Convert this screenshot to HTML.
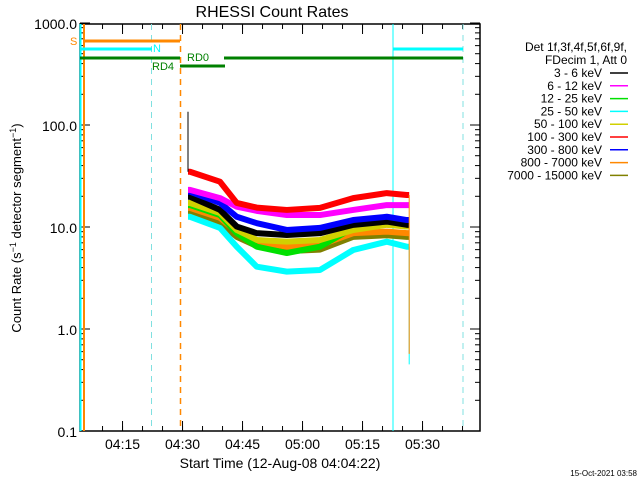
<!DOCTYPE html>
<html><head><meta charset="utf-8"><style>
body{margin:0;background:#fff;}
svg{display:block;font-family:"Liberation Sans",sans-serif;}
</style></head><body>
<svg id="chart" width="640" height="480" viewBox="0 0 640 480">
<rect width="640" height="480" fill="#fff"/>
<text x="272" y="17" font-size="16" text-anchor="middle">RHESSI Count Rates</text>
<text transform="translate(21,228) rotate(-90)" font-size="13" text-anchor="middle">Count Rate (s<tspan font-size="9" dy="-5">−1</tspan><tspan dy="5"> detector segment</tspan><tspan font-size="9" dy="-5">−1</tspan><tspan dy="5">)</tspan></text>
<text x="280" y="468" font-size="14" text-anchor="middle">Start Time (12-Aug-08 04:04:22)</text>
<text x="637" y="476" font-size="8" text-anchor="end">15-Oct-2021 03:58</text>
<g id="axes"></g>
<g id="marks"></g>
<g id="legend"></g>
</svg>
<script>
// data
const times = [27.5, 35, 39.2, 44.2, 51.7, 60, 68.3, 76.7, 81.7]; // minutes after 04:04:22
const s3_6 = [19.8, 14.7, 10.1, 8.7, 8.35, 8.7, 10.5, 11.3, 10.5];
const s6_12 = [23.1, 19.2, 15.8, 14.4, 13.1, 13.1, 14.7, 16.4, 16.4];
const s12_25 = [16.4, 13.1, 8.7, 6.41, 5.56, 6.41, 9.8, 10.9, 10.1];
const s25_50 = [12.6, 9.8, 6.41, 4.08, 3.65, 3.79, 5.95, 7.18, 6.41];
const s50_100 = [17.2, 13.7, 9.35, 7.46, 7.18, 7.46, 9.35, 10.5, 10.1];
const s100_300 = [34.8, 27.8, 17.2, 15.5, 14.7, 15.4, 19.2, 21.5, 20.6];
const s300_800 = [22.2, 17.2, 12.6, 10.9, 9.35, 9.8, 11.7, 12.6, 11.7];
const s800_7000 = [15.4, 12.3, 9.0, 7.18, 6.41, 6.66, 8.7, 9.0, 8.7];
const s7000_15000 = [14, 11, 8, 6.5, 5.8, 6, 8, 8.3, 8];
const labels = ["3 - 6 keV","6 - 12 keV","12 - 25 keV","25 - 50 keV","50 - 100 keV","100 - 300 keV","300 - 800 keV","800 - 7000 keV","7000 - 15000 keV"];
const colors = ["#000","#ff00ff","#00e000","#00ffff","#d0d000","#ff0000","#0000ff","#ff8800","#808000"];
const yTickVals = [0.1, 1, 10, 100, 1000];
const yTickLabels = ["0.1","1.0","10.0","100.0","1000.0"];
const xTickMins = [10.633, 25.633, 40.633, 55.633, 70.633, 85.633];
const xTickLabels = ["04:15","04:30","04:45","05:00","05:15","05:30"];
const spikeStart = 27.0, spikeTop = 135, endTime = 82.3, endDropOrange = 0.57, endDropCyan = 0.45;

const NS="http://www.w3.org/2000/svg";
const X0=80,X1=480,Y0=24,Y1=431;
const xs=m=>X0+m*4;
const ys=v=>329-Math.log10(v)*102;
function mk(tag,attrs,parent){const e=document.createElementNS(NS,tag);for(const k in attrs)e.setAttribute(k,attrs[k]);parent.appendChild(e);return e;}
const axes=document.getElementById('axes'),marks=document.getElementById('marks'),legend=document.getElementById('legend');

// status bars & flag lines
const flags=[
 [80.5,Y0,80.5,Y1,"#00ffff",2,"","attenuator-line"],
 [84,Y0,84,Y1,"#ff8800",2,"","saa-start-line"],
 [151.5,Y0,151.5,Y1,"#80e0e0",1,"6,5","night-end-line"],
 [180.5,Y0,180.5,Y1,"#ff8800",1.5,"6,5","saa-end-line"],
 [393,Y0,393,Y1,"#00ffff",1,"","night-start-line"],
 [463,Y0,463,Y1,"#80e0e0",1,"6,5","night-dashed-line"],
 [84,41,180,41,"#ff8800",3,"","saa-bar"],
 [80,49,152,49,"#00ffff",3,"","night-bar"],
 [393,49,463,49,"#00ffff",3,"","night-bar-2"],
 [80,58,180,58,"#008000",3,"","decim-bar"],
 [180,66,225,66,"#008000",3,"","rd4-bar"],
 [224,58,463,58,"#008000",3,"","rd0-bar"]];
flags.forEach(f=>{const l=mk('line',{x1:f[0],y1:f[1],x2:f[2],y2:f[3],stroke:f[4],'stroke-width':f[5]},marks);if(f[6])l.setAttribute('stroke-dasharray',f[6]);

});
[["S",70,45,"#ff8800","saa-label"],["N",153,52,"#00ffff","night-label"],["RD4",152,70,"#008000","rd4-label"],["RD0",187,61,"#008000","rd0-label"]].forEach(t=>{const e=mk('text',{x:t[1],y:t[2],fill:t[3],'font-size':11},marks);e.textContent=t[0];

});

// series
const series=[s3_6,s6_12,s12_25,s25_50,s50_100,s100_300,s300_800,s800_7000,s7000_15000];
const order=[8,3,7,2,4,0,6,1,5];
order.forEach(i=>{const d=series[i];
 let pts=[[xs(spikeStart),ys(d[0])]].concat(times.map((t,j)=>[xs(t),ys(d[j])]));
 pts.push([xs(endTime),ys(d[d.length-1])]);
 const p=mk('polyline',{points:pts.map(p=>p.join(',')).join(' '),fill:'none',stroke:colors[i],'stroke-width':6,'stroke-linejoin':'round'},marks);
 
 });
const sp=mk('line',{x1:xs(spikeStart),y1:ys(spikeTop),x2:xs(spikeStart),y2:ys(s100_300[0]),stroke:'#000','stroke-width':1},marks);


const d1=mk('line',{x1:xs(endTime),y1:ys(s25_50[8]),x2:xs(endTime),y2:ys(endDropCyan),stroke:'#00ffff','stroke-width':1},marks);


const d2=mk('line',{x1:xs(endTime),y1:ys(s100_300[8]),x2:xs(endTime),y2:ys(endDropOrange),stroke:'#ff8800','stroke-width':1},marks);



// axes box
const box=mk('rect',{x:X0,y:Y0,width:X1-X0,height:Y1-Y0,fill:'none',stroke:'#000','stroke-width':1.5},axes);


// y ticks
yTickVals.forEach((v,i)=>{const y=ys(v);
 mk('line',{x1:X0,y1:y,x2:X0+10,y2:y,stroke:'#000'},axes);mk('line',{x1:X1,y1:y,x2:X1-10,y2:y,stroke:'#000'},axes);
 const t=mk('text',{x:X0-3,y:y+6,'font-size':14,'text-anchor':'end'},axes);t.textContent=yTickLabels[i];
 
 
 if(i<yTickVals.length-1)for(let k=2;k<10;k++){const yy=ys(v*k);
  mk('line',{x1:X0,y1:yy,x2:X0+5,y2:yy,stroke:'#000'},axes);mk('line',{x1:X1,y1:yy,x2:X1-5,y2:yy,stroke:'#000'},axes);}
});
// x ticks
for(let m=xTickMins[0]-5;m<100;m+=5){const x=xs(m);if(x<X0)continue;
 mk('line',{x1:x,y1:Y1,x2:x,y2:Y1-5,stroke:'#000'},axes);mk('line',{x1:x,y1:Y0,x2:x,y2:Y0+5,stroke:'#000'},axes);}
xTickMins.forEach((m,i)=>{const x=xs(m);
 mk('line',{x1:x,y1:Y1,x2:x,y2:Y1-10,stroke:'#000'},axes);mk('line',{x1:x,y1:Y0,x2:x,y2:Y0+10,stroke:'#000'},axes);
 const t=mk('text',{x:x,y:449,'font-size':14,'text-anchor':'middle'},axes);t.textContent=xTickLabels[i];
 
 });

// legend
[["Det 1f,3f,4f,5f,6f,9f,",51],["FDecim 1, Att 0",64]].forEach(h=>{const t=mk('text',{x:627,y:h[1],'font-size':12,'text-anchor':'end'},legend);t.textContent=h[0];
 
 });
labels.forEach((l,i)=>{const y=73+i*12.8;
 const t=mk('text',{x:602,y:y+4,'font-size':12,'text-anchor':'end'},legend);t.textContent=l;
 
 
 const ln=mk('line',{x1:610,y1:y,x2:628,y2:y,stroke:colors[i],'stroke-width':1.5},legend);
 
 });
</script>
</body></html>
